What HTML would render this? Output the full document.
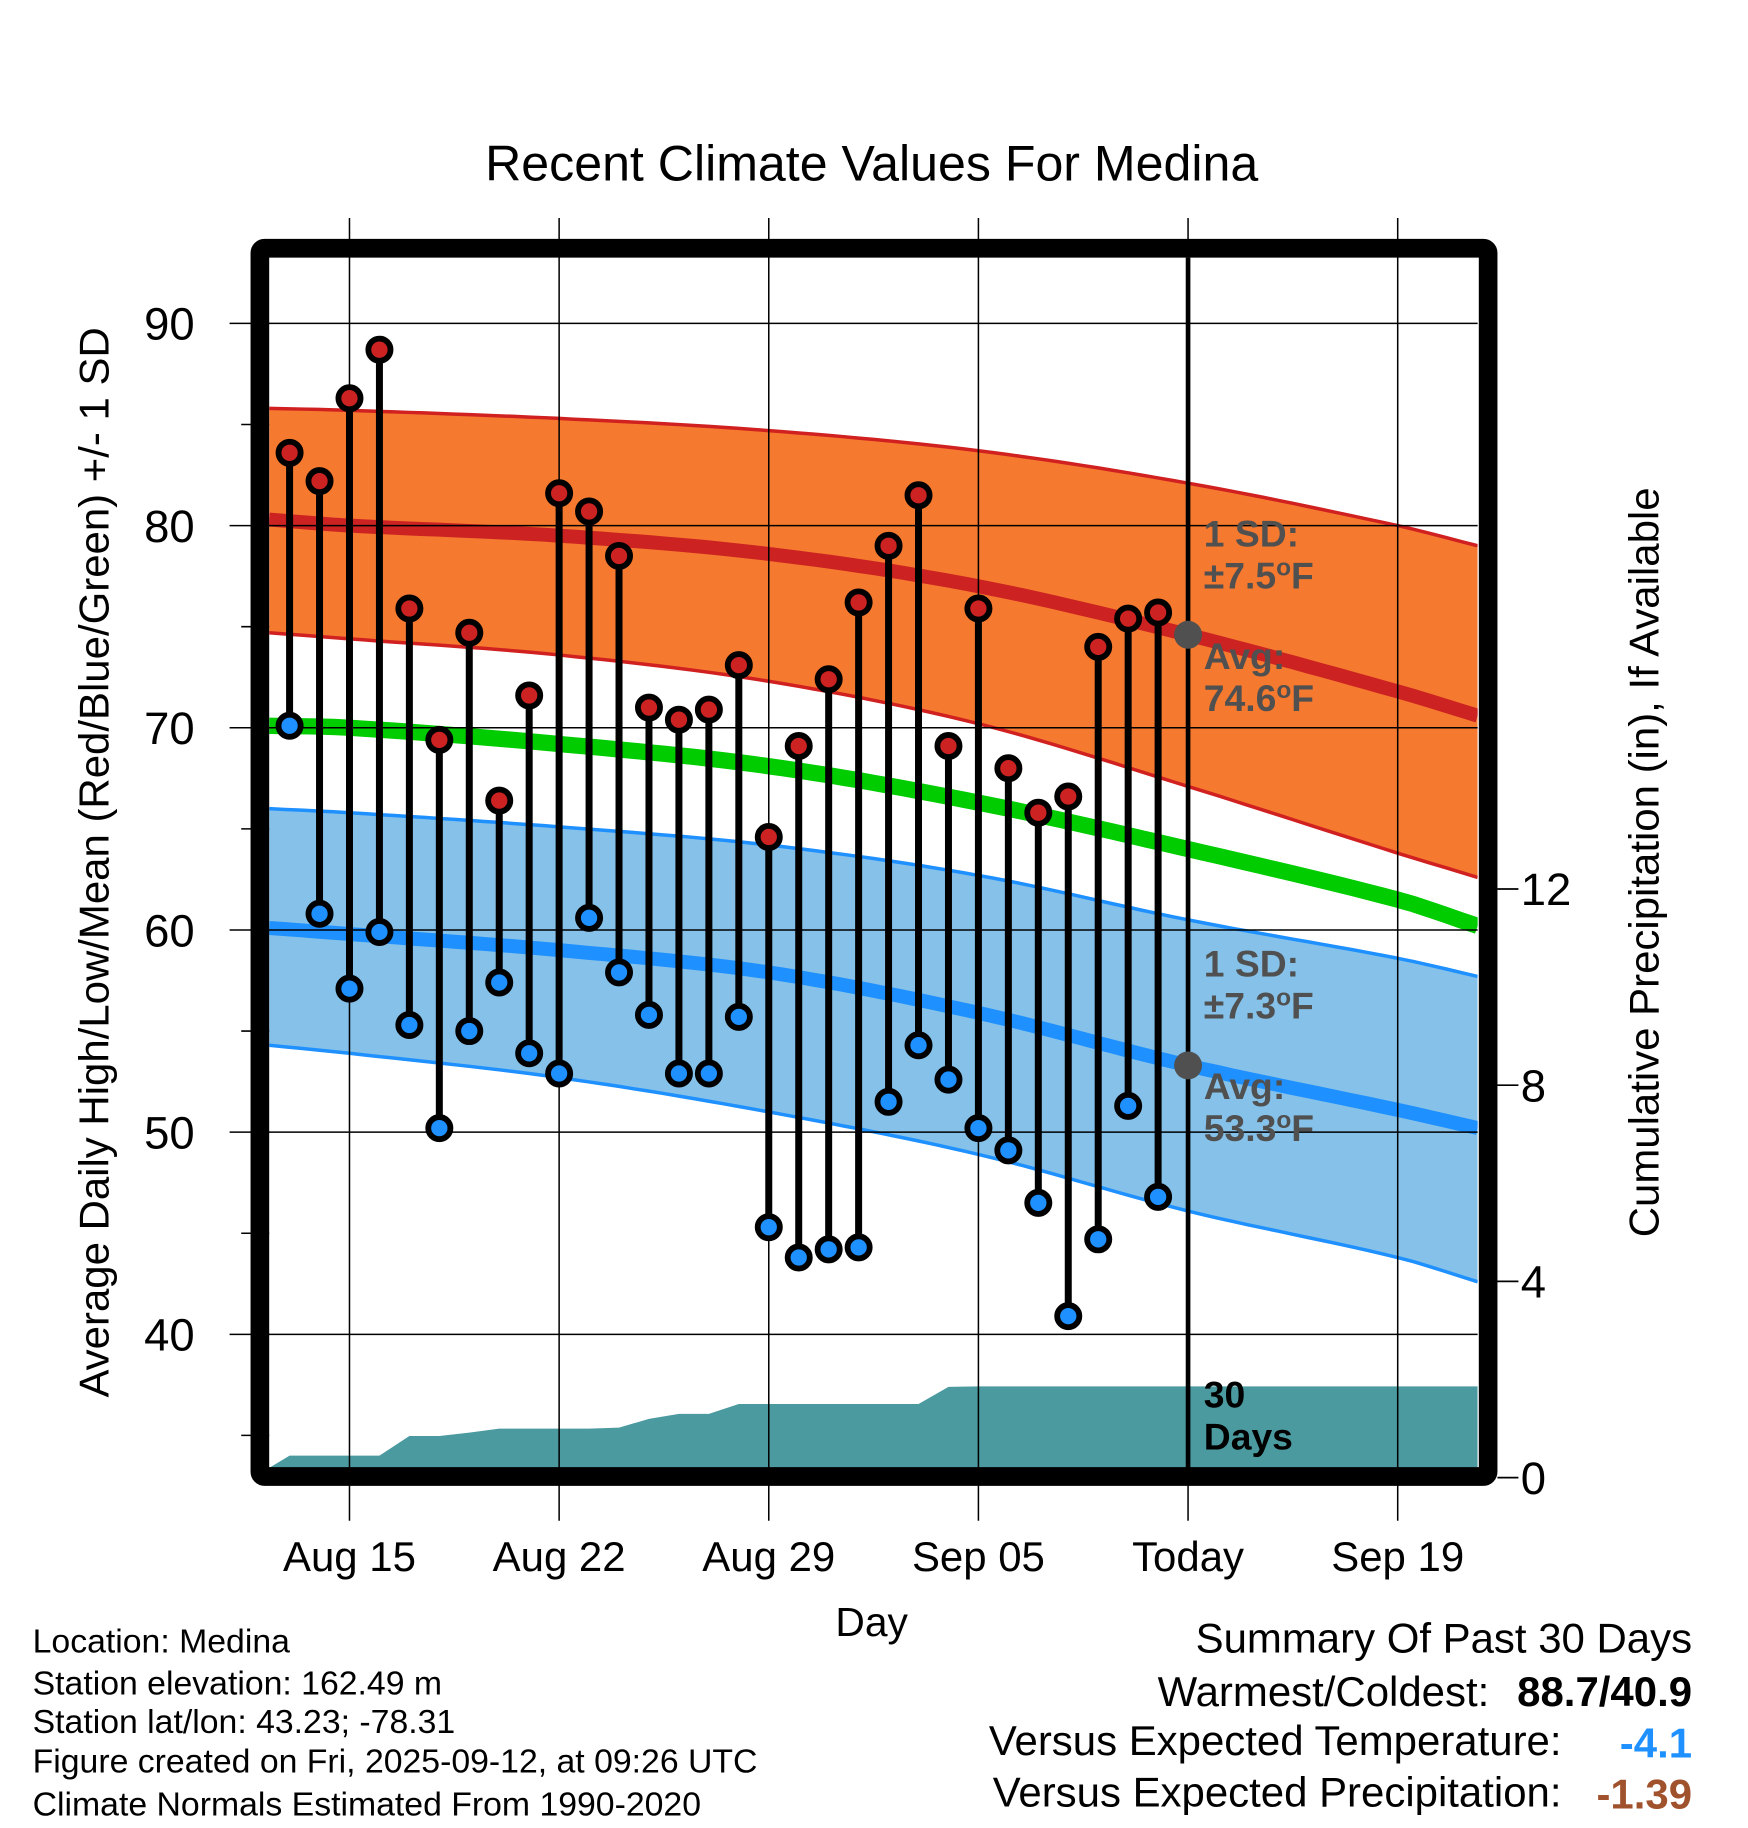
<!DOCTYPE html>
<html><head><meta charset="utf-8"><style>html,body{margin:0;padding:0;background:#fff}svg{display:block}text{font-family:"Liberation Sans",Arial,sans-serif}</style></head>
<body>
<svg id="chart" width="1748" height="1828" viewBox="0 0 1500 1568.6" xmlns="http://www.w3.org/2000/svg">
<text x="748" y="155" font-size="43" text-anchor="middle">Recent Climate Values For Medina</text>
<g id="plot"></g>
<text x="748" y="1404" font-size="35" text-anchor="middle">Day</text>
<text transform="translate(93,740) rotate(-90)" font-size="36" text-anchor="middle">Average Daily High/Low/Mean (Red/Blue/Green) +/- 1 SD</text>
<text transform="translate(1423,740) rotate(-90)" font-size="36" text-anchor="middle">Cumulative Precipitation (in), If Available</text>
<g font-size="29">
<text x="28" y="1418">Location: Medina</text>
<text x="28" y="1454">Station elevation: 162.49 m</text>
<text x="28" y="1487">Station lat/lon: 43.23; -78.31</text>
<text x="28" y="1521">Figure created on Fri, 2025-09-12, at 09:26 UTC</text>
<text x="28" y="1558">Climate Normals Estimated From 1990-2020</text>
</g>
<g font-size="36" text-anchor="end">
<text x="1452" y="1418">Summary Of Past 30 Days</text>
<text x="1278" y="1464">Warmest/Coldest:</text>
<text x="1452" y="1464" font-weight="bold">88.7/40.9</text>
<text x="1340" y="1506">Versus Expected Temperature:</text>
<text x="1452" y="1508" font-weight="bold" fill="#1e90ff">-4.1</text>
<text x="1340" y="1550">Versus Expected Precipitation:</text>
<text x="1452" y="1552" font-weight="bold" fill="#a0522d">-1.39</text>
</g>
</svg>
<script>
const highs=[83.6,82.2,86.3,88.7,75.9,69.4,74.7,66.4,71.6,81.6,80.7,78.5,71.0,70.4,70.9,73.1,64.6,69.1,72.4,76.2,79.0,81.5,69.1,75.9,68.0,65.8,66.6,74.0,75.4,75.7];
const lows=[70.1,60.8,57.1,59.9,55.3,50.2,55.0,57.4,53.9,52.9,60.6,57.9,55.8,52.9,52.9,55.7,45.3,43.8,44.2,44.3,51.5,54.3,52.6,50.2,49.1,46.5,40.9,44.7,51.3,46.8];
const precip=[0.45,0.45,0.45,0.45,0.85,0.85,0.92,1.0,1.0,1.0,1.0,1.02,1.2,1.3,1.3,1.5,1.5,1.5,1.5,1.5,1.5,1.5,1.85,1.86,1.86,1.86,1.86,1.86,1.86,1.86];
const normDays=[-0.68,2,9,16,23,30,37,39.67];
const avgHigh=[80.3,80.0,79.5,78.6,77.0,74.6,71.8,70.6];
const highUpper=[85.8,85.7,85.3,84.7,83.7,82.1,80.0,79.0];
const highLower=[74.7,74.4,73.6,72.3,70.2,67.1,63.8,62.6];
const avgMean=[70.1,70.0,69.2,68.1,66.3,64.0,61.5,60.2];
const avgLow=[60.1,59.8,59.0,57.9,55.9,53.3,51.1,50.2];
const lowUpper=[66.0,65.8,65.1,64.2,62.7,60.5,58.6,57.7];
const lowLower=[54.3,53.9,52.7,51.0,48.9,46.1,43.8,42.6];
const xTickDays=[2,9,16,23,30,37];
const xTickLabels=["Aug 15","Aug 22","Aug 29","Sep 05","Today","Sep 19"];
const yTicks=[40,50,60,70,80,90];
const y2Ticks=[0,4,8,12];
const todayDay=30;
const todayHigh=74.6, todayLow=53.3;

const L=231,R=1268,T=221,B=1260;
const X=d=>248.5+d*25.7;
const Y=v=>1145-(v-40)*17.35;
const Y2=v=>1268-v*42.1;
const NS="http://www.w3.org/2000/svg";
const g=document.getElementById('plot');
function mk(t,a,p){const e=document.createElementNS(NS,t);for(const k in a)e.setAttribute(k,a[k]);(p||g).appendChild(e);return e;}
const clip=mk('clipPath',{id:'pc'});mk('rect',{x:L,y:T,width:R-L,height:B-T},clip);
const inner=mk('g',{'clip-path':'url(#pc)'});
// smooth cubic Hermite with non-uniform-spacing slopes
function samp(arr){const out=[];const n=arr.length;const D=normDays;
 const m=arr.map((v,i)=>{
  if(i===0)return (arr[1]-arr[0])/(D[1]-D[0]);
  if(i===n-1)return (arr[n-1]-arr[n-2])/(D[n-1]-D[n-2]);
  return (arr[i+1]-arr[i-1])/(D[i+1]-D[i-1]);});
 for(let i=0;i<n-1;i++){const h=D[i+1]-D[i];const steps=Math.max(2,Math.round(h*2));
  for(let s=0;s<steps;s++){const t=s/steps,t2=t*t,t3=t2*t;
   const v=(2*t3-3*t2+1)*arr[i]+(t3-2*t2+t)*h*m[i]+(-2*t3+3*t2)*arr[i+1]+(t3-t2)*h*m[i+1];
   out.push([X(D[i]+h*t),Y(v)]);}}
 out.push([X(D[n-1]),Y(arr[n-1])]);return out;}
const fmt=p=>p.map(q=>q[0].toFixed(1)+','+q[1].toFixed(1)).join(' ');
function line(arr){return fmt(samp(arr));}
function band(up,lo){return fmt(samp(up))+' '+fmt(samp(lo).reverse());}
let e;
e=mk('polygon',{points:band(highUpper,highLower),fill:'#f5792e'},inner);

e=mk('polygon',{points:band(lowUpper,lowLower),fill:'#85c1e8'},inner);

[[highUpper,'#d02020',3],[highLower,'#d02020',3],[lowUpper,'#1e90ff',3],[lowLower,'#1e90ff',3],[avgHigh,'#cc2222',12],[avgMean,'#00cc00',14],[avgLow,'#1e90ff',12]].forEach((s,i)=>{
 e=mk('polyline',{points:line(s[0]),fill:'none',stroke:s[1],'stroke-width':s[2]},inner);
 
});
let pts=[[L,Y2(0.2)]];precip.forEach((v,i)=>pts.push([X(i),Y2(v)]));pts.push([R,Y2(precip[precip.length-1])]);
const pstr=L+','+B+' '+fmt(pts)+' '+R+','+B;
e=mk('polygon',{points:pstr,fill:'#4a9aa0'},inner);

yTicks.forEach(v=>{mk('line',{x1:197,x2:R,y1:Y(v),y2:Y(v),stroke:'#000','stroke-width':1.3});
 e=mk('text',{x:167,y:Y(v)+14,'font-size':39,'text-anchor':'end'});e.textContent=v;
 });
for(let v=35;v<=90;v+=10){mk('line',{x1:207,x2:L,y1:Y(v),y2:Y(v),stroke:'#000','stroke-width':1.3});}
xTickDays.forEach((d,i)=>{mk('line',{x1:X(d),x2:X(d),y1:187,y2:1305,stroke:'#000','stroke-width':1.3});
 e=mk('text',{x:X(d),y:1348,'font-size':36,'text-anchor':'middle'});e.textContent=xTickLabels[i];
 });
y2Ticks.forEach(v=>{mk('line',{x1:1285,x2:1303,y1:Y2(v),y2:Y2(v),stroke:'#000','stroke-width':1.5});
 e=mk('text',{x:1305,y:Y2(v)+14,'font-size':39});e.textContent=v;
 });
e=mk('line',{x1:X(todayDay),x2:X(todayDay),y1:T,y2:B,stroke:'#000','stroke-width':4});

highs.forEach((h,i)=>{
 e=mk('line',{x1:X(i),x2:X(i),y1:Y(h),y2:Y(lows[i]),stroke:'#000','stroke-width':6});
 
});
highs.forEach((h,i)=>{
 e=mk('circle',{cx:X(i),cy:Y(h),r:9.5,fill:'#cc2222',stroke:'#000','stroke-width':5});
 
 e=mk('circle',{cx:X(i),cy:Y(lows[i]),r:9.5,fill:'#1e90ff',stroke:'#000','stroke-width':5});
 
});
e=mk('circle',{cx:X(todayDay),cy:Y(todayHigh),r:12,fill:'#505050'});

e=mk('circle',{cx:X(todayDay),cy:Y(todayLow),r:12,fill:'#505050'});

function ann(lines,y,name,fill){const t=mk('text',{x:1033,y:y,'font-size':32,'font-weight':'bold',fill:fill});
 
 lines.forEach((l,i)=>{const s=mk('tspan',{x:1033,dy:i?36:0},t);
  if(l.indexOf('°')>=0){const p=l.split('°');s.appendChild(document.createTextNode(p[0]));
   const o=mk('tspan',{'baseline-shift':'super','font-size':21},s);o.textContent='o';
   const f=mk('tspan',{'baseline-shift':'baseline'},s);f.textContent=p[1];}
  else s.textContent=l;});}
ann(['1 SD:','±7.5°F'],469,'high-sd-annotation','#505050');
ann(['Avg:','74.6°F'],574,'high-avg-annotation','#505050');
ann(['1 SD:','±7.3°F'],838,'low-sd-annotation','#505050');
ann(['Avg:','53.3°F'],943,'low-avg-annotation','#505050');
ann(['30','Days'],1208,'precip-days-annotation','#000');
e=mk('rect',{x:223,y:213,width:1054,height:1054,fill:'none',stroke:'#000','stroke-width':16,rx:4});

</script>
</body></html>
